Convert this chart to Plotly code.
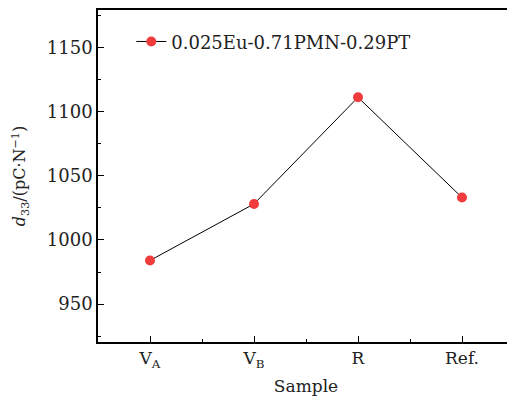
import plotly.graph_objects as go

categories = ["V<sub>A</sub>", "V<sub>B</sub>", "R", "Ref."]
d33_values = [984, 1028, 1111, 1033]
series_name = "0.025Eu-0.71PMN-0.29PT"
y_tick_values = [950, 1000, 1050, 1100, 1150]

FONT = "DejaVu Serif"

fig = go.Figure()
fig.add_trace(go.Scatter(
    x=list(range(len(categories))),
    y=d33_values,
    mode="lines+markers",
    name=series_name,
    line=dict(color="black", width=1),
    marker=dict(color="#f03c3c", size=10),
))

# page body has an 8px default margin, so the figure is sized/offset to compensate
fig.update_layout(
    width=507, height=391,
    margin=dict(l=90, r=1, t=2, b=57),
    paper_bgcolor="white", plot_bgcolor="white",
    font=dict(family=FONT, color="#222", size=17),
    showlegend=True,
    legend=dict(x=0.08, y=0.96, xanchor="left", yanchor="top",
                bgcolor="rgba(0,0,0,0)", font=dict(size=18, family=FONT),
                itemwidth=30),
    xaxis=dict(
        range=[-0.5, 3.5],
        automargin=False,
        tickmode="array",
        tickvals=list(range(len(categories))),
        ticktext=categories,
        ticks="inside", ticklen=6, tickwidth=1.2, tickcolor="black",
        minor=dict(tickvals=[0.5, 1.5, 2.5], ticks="inside", ticklen=3, tickcolor="black"),
        showline=True, linecolor="black", linewidth=1.5, mirror=True,
        showgrid=False, zeroline=False,
        tickfont=dict(size=17, family=FONT),
        title=dict(text="Sample", font=dict(size=17, family=FONT), standoff=10),
    ),
    yaxis=dict(
        range=[920.5, 1179],
        automargin=False,
        tickmode="array",
        tickvals=y_tick_values,
        ticks="inside", ticklen=6, tickwidth=1.2, tickcolor="black",
        minor=dict(dtick=25, tick0=925, ticks="inside", ticklen=3, tickcolor="black"),
        showline=True, linecolor="black", linewidth=1.5, mirror=True,
        showgrid=False, zeroline=False,
        tickfont=dict(size=18, family=FONT),
        title=dict(text="<i>d</i><sub>33</sub>/(pC·N<sup>−1</sup>)",
                   font=dict(size=16, family=FONT), standoff=17),
    ),
)

fig.write_html("out.html")
